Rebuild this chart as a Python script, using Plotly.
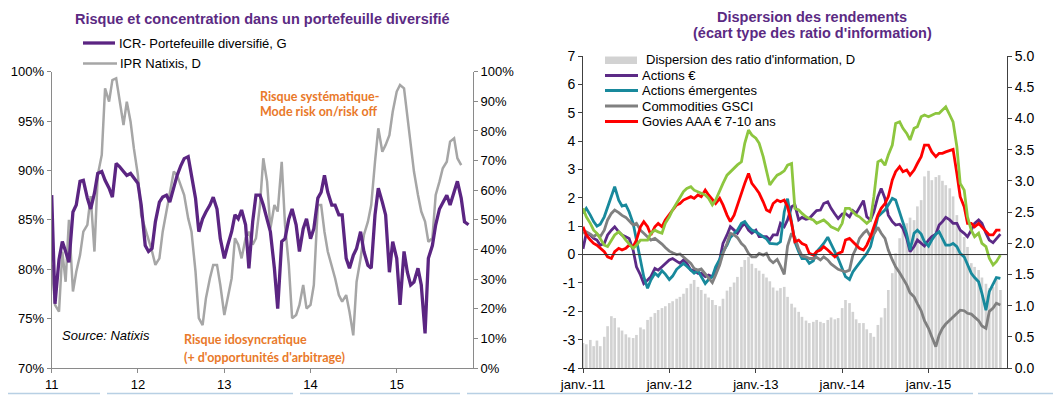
import pandas as pd
import plotly.graph_objects as go

# The page body has an 8px margin: the figure is drawn 8px in from the top-left corner.
OFF = 8
W, H = 1061 - OFF, 396 - OFF

# ---------------- data (semi-monthly readings) ----------------
dates_left = pd.date_range("2011-01-01", periods=117, freq="SMS")
icr = [87.5, 76.5, 81.0, 82.8, 81.8, 80.7, 85.8, 86.5, 88.9, 89.0,
       87.2, 86.1, 87.7, 89.7, 89.9, 89.0, 88.2, 87.3, 90.7, 90.4,
       89.9, 89.5, 89.7, 89.2, 88.7, 86.5, 82.4, 81.8, 82.1, 84.8,
       86.8, 87.3, 87.5, 86.8, 88.2, 89.5, 90.5, 91.2, 91.4, 89.5,
       87.2, 83.8, 85.1, 85.8, 86.5, 87.3, 86.1, 83.1, 81.1, 82.4,
       83.8, 85.5, 85.1, 86.0, 84.5, 80.1, 84.8, 87.5, 87.5, 86.5,
       85.1, 83.8, 80.1, 76.0, 82.8, 83.1, 85.1, 86.1, 84.5, 81.8,
       84.1, 85.1, 83.1, 84.1, 87.2, 87.8, 89.5, 87.8, 86.5, 86.5,
       85.5, 85.5, 81.1, 80.1, 81.4, 82.1, 83.8, 81.8, 80.4, 80.1,
       85.5, 88.2, 86.8, 85.5, 79.7, 82.8, 81.1, 76.4, 81.8, 79.7,
       78.4, 78.7, 80.1, 78.4, 73.5, 81.1, 82.4, 84.5, 86.1, 86.8,
       87.5, 86.5, 87.8, 88.9, 87.2, 84.8, 84.5]
ipr = [34.8, 21.3, 19.0, 39.3, 29.1, 50.0, 25.8, 32.5, 38.1, 46.0,
       48.3, 58.0, 39.3, 65.1, 71.9, 94.4, 89.9, 97.2, 97.8, 91.0,
       82.0, 89.9, 83.1, 74.1, 65.1, 51.6, 47.1, 42.6, 39.3, 34.8,
       37.0, 46.0, 52.8, 59.5, 66.3, 65.1, 61.8, 58.4, 50.5, 46.0,
       32.5, 16.8, 14.5, 23.5, 30.3, 34.8, 34.8, 28.0, 17.9, 23.5,
       30.3, 43.8, 41.6, 37.0, 43.8, 46.0, 41.6, 43.8,
       55.0, 70.8, 62.9, 47.1, 55.0, 52.8, 69.6, 48.3, 34.8, 16.8,
       17.9, 21.3, 28.0, 20.1, 21.3, 28.0, 55.0, 55.0, 46.0, 39.3,
       34.8, 30.3, 24.6, 22.4, 24.6, 19.0, 11.0, 29.1, 37.0, 44.9,
       49.4, 55.0, 69.6, 80.9, 73.0, 75.3, 78.6, 86.5, 93.3, 95.5,
       94.4, 84.3, 76.4, 66.3, 58.4, 52.8, 49.4, 42.6, 43.8, 58.4,
       62.9, 67.4, 69.6, 76.4, 77.5, 70.8, 68.5]

dates_right = pd.date_range("2011-01-01", periods=117, freq="SMS")
dispersion = [0.40, 0.38, 0.45, 0.35, 0.44, 0.35, 0.50, 0.67, 0.83, 0.80,
              0.65, 0.60, 0.54, 0.49, 0.48, 0.53, 0.65, 0.62, 0.77, 0.82,
              0.88, 0.93, 0.96, 0.99, 1.04, 1.07, 1.11, 1.14, 1.19, 1.28,
              1.35, 1.41, 1.30, 1.25, 1.19, 1.13, 1.09, 1.01, 0.99, 1.11,
              1.24, 1.30, 1.37, 1.46, 1.62, 1.73, 1.78, 1.67, 1.60, 1.56,
              1.51, 1.45, 1.39, 1.29, 1.24, 1.28, 1.30, 1.14, 1.03, 0.97,
              0.90, 0.82, 0.76, 0.72, 0.74, 0.77, 0.74, 0.72, 0.77, 0.81,
              0.78, 0.80, 0.96, 1.09, 1.04, 0.90, 0.78, 0.72, 0.72, 0.62,
              0.56, 0.50, 0.69, 0.81, 0.96, 1.25, 1.52, 1.84, 2.08, 2.25,
              2.32, 2.41, 2.37, 2.59, 2.69, 3.07, 3.16, 3.01, 3.06, 3.09,
              3.00, 2.93, 2.88, 2.75, 2.45, 2.21, 2.10, 1.94, 1.68, 1.62,
              1.57, 1.45, 1.35, 1.28, 1.30, 1.41, 1.25]
actions_eur = [0.20, 0.75, 0.69, 0.57, 0.51, 0.33, 0.39, 0.69, 0.86, 0.98,
               0.80, 0.69, 0.63, 0.57, 0.16, -0.43, -0.72, -1.02, -0.90, -0.78,
               -0.49, -0.55, -0.43, -0.31, -0.19, -0.14, -0.25, -0.31, -0.19, -0.31,
               -0.55, -0.55, -0.66, -0.66, -0.78, -0.72, -0.78, -0.55, -0.19, 0.39,
               0.69, 0.98, 0.86, 0.75, 0.98, 1.10, 0.86, 0.75, 0.86, 0.63,
               0.63, 0.63, 0.51, 0.69, 0.69, 1.10, 0.98, 1.22, 1.69, 1.75,
               1.22, 1.31, 1.24, 1.27, 1.43, 1.55, 1.57, 1.80, 1.86, 1.63,
               1.43, 1.27, 1.43, 1.45, 1.33, 1.55, 1.45, 1.66, 1.90, 1.33,
               1.22, 1.51, 2.04, 2.33, 1.98, 1.39, 1.16, 1.04, 1.07, 0.92,
               0.57, 0.10, 0.28, 0.51, 0.39, 0.30, 0.51, 0.63, 0.72, 1.04,
               1.16, 1.31, 1.22, 1.10, 1.10, 0.86, 0.75, 0.63, 0.86, 1.10,
               1.22, 1.10, 0.75, 0.51, 0.42, 0.57, 0.72]
actions_em = [1.45, 1.63, 1.39, 1.16, 1.00, 1.07, 1.33, 1.69, 2.04, 2.39,
              1.92, 1.71, 1.75, 1.51, 1.10, 0.51, -0.31, -0.78, -1.19, -0.90,
              -0.66, -0.76, -0.57, -0.69, -0.88, -0.76, -0.52, -0.43, -0.31, -0.41,
              -0.55, -0.66, -0.57, -0.78, -1.02, -0.88, -0.78, -0.43, -0.17, 0.10,
              0.33, 0.60, 0.75, 0.86, 1.10, 1.16, 0.98, 0.86, 0.80, 0.72,
              0.60, 0.55, 0.39, 0.37, 0.37, 0.45, 1.50, 1.97, 1.20, 0.45,
              0.10, -0.14, -0.14, -0.31, -0.22, 0.10, 0.25, 0.39, 0.61, 0.37,
              0.14, -0.14, -0.49, -0.78, -0.88, -0.61, -0.45, -0.31, -0.10, 0.04,
              0.28, 0.75, 1.33, 1.45, 1.57, 1.75, 1.98, 1.92, 1.51, 1.10,
              0.72, 0.16, 0.75, 0.86, 0.72, 0.45, 0.30, 0.51, 0.72, 0.80,
              0.57, 0.33, 0.33, 0.39, 0.28, 0.04, -0.08, -0.37, -0.66, -0.81,
              -0.96, -1.37, -1.96, -1.31, -1.07, -0.81, -0.84]
commodities = [0.75, 0.80, 0.72, 0.63, 0.72, 0.63, 0.86, 1.22, 1.45, 1.57,
               1.48, 1.38, 1.31, 1.19, 1.04, 1.10, 0.86, 0.75, 0.63, 0.51,
               0.57, 0.49, 0.37, 0.25, 0.12, 0.06, 0.00, 0.02, -0.08, -0.17,
               -0.31, -0.49, -0.55, -0.51, -0.69, -0.80, -0.99, -0.72, -0.37, 0.04,
               0.39, 0.75, 0.69, 0.60, 0.39, 0.28, 0.04, -0.08, -0.08, 0.04,
               -0.02, 0.04, -0.19, -0.29, -0.17, -0.40, -0.70, 0.30, 0.75, 0.60,
               0.20, -0.05, -0.08, -0.14, -0.14, -0.10, -0.19, -0.08, -0.19, -0.33,
               -0.45, -0.52, -0.57, -0.61, -0.55, -0.02, 0.22, 0.57, 0.75, 0.86,
               0.63, 0.72, 0.96, 0.75, 0.57, 0.16, -0.19, -0.43, -0.64, -0.84,
               -1.07, -1.35, -1.49, -1.73, -1.98, -2.33, -2.60, -2.90, -3.25, -2.84,
               -2.60, -2.45, -2.31, -2.19, -2.07, -1.96, -1.98, -2.07, -2.10, -2.22,
               -2.33, -2.52, -2.60, -2.01, -1.89, -1.72, -1.78]
govies = [0.98, 0.69, 0.51, 0.39, 0.33, 0.22, 0.10, -0.08, -0.14, 0.10,
          0.22, 0.16, 0.22, 0.33, 0.28, 0.51, 0.98, 1.16, 0.98, 0.69,
          0.98, 1.10, 0.98, 1.22, 1.39, 1.57, 1.75, 1.80, 1.92, 1.98,
          2.04, 1.98, 2.10, 2.04, 2.27, 2.10, 1.92, 1.80, 1.98, 1.75,
          1.39, 1.16, 1.39, 1.75, 2.16, 2.51, 2.86, 2.51, 2.33, 2.16,
          1.86, 1.57, 1.51, 1.80, 1.92, 1.86, 1.92, 1.69, 1.10, 0.45,
          0.51, 0.39, 0.33, 0.04, -0.02, 0.10, 0.16, 0.28, 0.16, 0.04,
          -0.08, 0.04, 0.10, 0.51, 0.57, 0.45, 0.33, 0.22, 0.16, 0.33,
          0.63, 0.98, 1.39, 1.63, 1.80, 2.04, 2.63, 2.92, 3.10, 2.92,
          2.98, 2.80, 2.98, 3.21, 3.45, 3.86, 3.86, 3.62, 3.45, 3.57,
          3.57, 3.62, 3.68, 3.71, 2.86, 2.04, 1.69, 1.10, 1.10, 0.98,
          1.10, 0.98, 0.80, 0.69, 0.69, 0.86, 0.86]
green_series = [1.63, 1.33, 1.10, 0.86, 0.75, 0.57, 0.33, 0.28, 0.51, 0.69,
                0.80, 0.69, 0.51, 0.39, 0.22, 0.33, 0.51, 0.51, 0.51, 0.75,
                0.86, 0.80, 0.75, 1.10, 1.33, 1.57, 1.80, 1.98, 2.22, 2.33,
                2.39, 2.27, 2.22, 2.16, 2.10, 1.98, 1.75, 1.92, 2.27, 2.51,
                2.80, 2.92, 3.04, 3.16, 3.27, 3.92, 4.39, 4.21, 4.10, 3.92,
                3.45, 2.98, 2.45, 2.62, 2.80, 2.86, 2.95, 3.15, 3.21, 1.63,
                1.57, 1.45, 1.33, 1.27, 1.22, 1.10, 1.16, 1.22, 1.10, 0.98,
                0.92, 0.86, 1.10, 1.63, 1.63, 1.51, 1.39, 1.33, 1.22, 1.10,
                1.22, 2.04, 3.27, 3.33, 3.15, 3.51, 3.86, 4.62, 4.68, 4.45,
                4.27, 4.04, 4.45, 4.51, 4.86, 4.92, 4.86, 4.92, 4.98, 4.98,
                5.10, 5.21, 4.92, 4.68, 3.80, 2.51, 2.27, 1.33, 0.86, 0.63,
                0.75, 0.39, 0.28, -0.13, -0.37, -0.25, -0.02]

left_xticks = ["2011-01-01", "2012-01-01", "2013-01-01", "2014-01-01", "2015-01-01"]
left_xlabels = ["11", "12", "13", "14", "15"]
right_xlabels = ["janv.-11", "janv.-12", "janv.-13", "janv.-14", "janv.-15"]
left_y_ticks = [70, 75, 80, 85, 90, 95, 100]
ipr_ticks = list(range(0, 101, 10))
right_y_ticks = [-4, -3, -2, -1, 0, 1, 2, 3, 4, 5, 6, 7]
disp_ticks = [0, 0.5, 1, 1.5, 2, 2.5, 3, 3.5, 4, 4.5, 5]

# ---------------- styling ----------------
FONT = "Liberation Sans, Arial, sans-serif"
PURPLE_T = "#5b2a83"
ORANGE = "#e9792a"
C_ICR = "#5b2582"
C_IPR = "#a6a6a6"
C_EUR = "#5c2a86"
C_EM = "#18899c"
C_COM = "#808080"
C_GOV = "#ff0000"
C_GRN = "#8dc63f"
C_BAR = "#d2d2d2"
AX_GREY = "#8a8a8a"


def fx(px):
    return (px - OFF) / W


def fy(py):
    return 1 - (py - OFF) / H


fig = go.Figure()

# left panel
fig.add_trace(go.Scatter(x=dates_left[:len(ipr)], y=ipr, mode="lines", name="IPR Natixis, D",
                         line=dict(color=C_IPR, width=2.5), xaxis="x", yaxis="y", showlegend=False))
fig.add_trace(go.Scatter(x=dates_left, y=icr, mode="lines", name="ICR- Portefeuille diversifié, G",
                         line=dict(color=C_ICR, width=3.3), xaxis="x", yaxis="y2", showlegend=False))

# right panel
fig.add_trace(go.Bar(x=dates_right, y=dispersion, name="Dispersion des ratio d'information, D",
                     marker=dict(color=C_BAR, line=dict(width=0)), xaxis="x2", yaxis="y3", showlegend=False))
for vals, col, nm in [(actions_eur, C_EUR, "Actions €"),
                      (actions_em, C_EM, "Actions émergentes"),
                      (commodities, C_COM, "Commodities GSCI"),
                      (govies, C_GOV, "Govies AAA € 7-10 ans"),
                      (green_series, C_GRN, "")]:
    fig.add_trace(go.Scatter(x=dates_right, y=vals, mode="lines", name=nm,
                             line=dict(color=col, width=2.8), xaxis="x2", yaxis="y4", showlegend=False))

tickfont = dict(family=FONT, size=13, color="#000000")
tickfont14 = dict(family=FONT, size=14, color="#000000")

fig.update_layout(
    width=W, height=H, margin=dict(l=0, r=0, t=0, b=0, autoexpand=False),
    paper_bgcolor="white", plot_bgcolor="rgba(0,0,0,0)",
    showlegend=False, bargap=0.2,
    font=dict(family=FONT, size=13, color="#000"),
    xaxis=dict(domain=[fx(51.7), fx(473)], anchor="y", type="date", automargin=False,
               range=["2011-01-01", "2015-11-20"], tickvals=left_xticks, ticktext=left_xlabels,
               showline=True, linecolor=AX_GREY, linewidth=1, ticks="outside", ticklen=4,
               tickcolor=AX_GREY, showgrid=False, zeroline=False, tickfont=tickfont),
    yaxis=dict(domain=[fy(368), fy(71.7)], anchor="x", side="right", range=[0, 100], automargin=False,
               tickvals=ipr_ticks, ticktext=[f"{v}%" for v in ipr_ticks], showline=True, linecolor=AX_GREY,
               ticks="outside", ticklen=4, tickcolor=AX_GREY, showgrid=False, zeroline=False,
               tickfont=tickfont),
    yaxis2=dict(overlaying="y", anchor="x", side="left", range=[70, 100], automargin=False,
                tickvals=left_y_ticks, ticktext=[f"{v}%" for v in left_y_ticks], showline=True,
                linecolor=AX_GREY, ticks="outside", ticklen=4, tickcolor=AX_GREY, showgrid=False,
                zeroline=False, tickfont=tickfont),
    xaxis2=dict(domain=[fx(583), fx(1007)], anchor="y3", type="date", automargin=False,
                range=["2011-01-01", "2015-11-29"], tickvals=left_xticks, ticktext=right_xlabels,
                showline=True, linecolor="#404040", linewidth=1, ticks="outside", ticklen=4,
                tickcolor="#404040", showgrid=False, zeroline=False, tickfont=tickfont),
    yaxis3=dict(domain=[fy(368), fy(56)], anchor="x2", side="right", range=[0, 5], automargin=False,
                tickvals=disp_ticks, ticktext=[f"{v:.1f}" for v in disp_ticks], showline=True,
                linecolor="#404040", ticks="outside", ticklen=4, tickcolor="#404040",
                showgrid=False, zeroline=False, tickfont=tickfont14),
    yaxis4=dict(overlaying="y3", anchor="x2", side="left", range=[-4, 7], automargin=False,
                tickvals=right_y_ticks, ticktext=[str(v) for v in right_y_ticks],
                showline=True, linecolor="#404040", ticks="outside", ticklen=4,
                tickcolor="#404040", showgrid=False, zeroline=False, tickfont=tickfont14),
)

shapes = []
# zero line of the right panel
shapes.append(dict(type="line", xref="x2 domain", yref="y4", x0=0, x1=1, y0=0, y1=0,
                   line=dict(color="#333333", width=1), layer="above"))
# legend swatches (left)
shapes.append(dict(type="line", xref="paper", yref="paper", x0=fx(83), x1=fx(115), y0=fy(43), y1=fy(43),
                   line=dict(color=C_ICR, width=3.3)))
shapes.append(dict(type="line", xref="paper", yref="paper", x0=fx(83), x1=fx(117), y0=fy(63.5), y1=fy(63.5),
                   line=dict(color=C_IPR, width=2.5)))
# legend swatches (right)
shapes.append(dict(type="rect", xref="paper", yref="paper", x0=fx(605), x1=fx(637), y0=fy(64), y1=fy(56.5),
                   fillcolor=C_BAR, line=dict(width=0)))
for yy, col in [(75.5, C_EUR), (90.5, C_EM), (106, C_COM), (121.5, C_GOV)]:
    shapes.append(dict(type="line", xref="paper", yref="paper", x0=fx(605), x1=fx(638), y0=fy(yy), y1=fy(yy),
                       line=dict(color=col, width=2.8)))
# light blue border strip at bottom of the page
for a, b in [(8, 100), (107, 293), (300, 460), (467, 973), (978, 1061)]:
    shapes.append(dict(type="line", xref="paper", yref="paper", x0=fx(a), x1=fx(b), y0=fy(393.5), y1=fy(393.5),
                       line=dict(color="#b8d0e4", width=1.5)))
fig.update_layout(shapes=shapes)

ann = []


def text(x, y, s, size=13, color="#000", bold=False, italic=False, family=FONT, anchor="left"):
    if bold:
        s = "<b>" + s + "</b>"
    if italic:
        s = "<i>" + s + "</i>"
    ann.append(dict(x=fx(x), y=fy(y), xref="paper", yref="paper", text=s, showarrow=False,
                    xanchor=anchor, yanchor="middle", borderpad=0,
                    font=dict(family=family, size=size, color=color)))


text(262, 19, "Risque et concentration dans un portefeuille diversifié", size=14.5, color=PURPLE_T,
     bold=True, anchor="center")
text(812, 17, "Dispersion des rendements", size=14.5, color=PURPLE_T, bold=True, anchor="center")
text(812, 33, "(écart type des ratio d'information)", size=14.5, color=PURPLE_T, bold=True, anchor="center")

text(118, 43, "ICR- Portefeuille diversifié, G")
text(119, 63.5, "IPR Natixis, D")

text(645, 60, "Dispersion des ratio d'information, D")
text(641, 75.5, "Actions €")
text(641, 90.5, "Actions émergentes")
text(641, 106, "Commodities GSCI")
text(641, 121.5, "Govies AAA € 7-10 ans")

CAL = "Lato, Carlito, Calibri, sans-serif"
text(259, 97, "Risque systématique-", size=12.5, color=ORANGE, bold=True, family=CAL)
text(259, 112, "Mode risk on/risk off", size=12.5, color=ORANGE, bold=True, family=CAL)
text(183, 339, "Risque idosyncratique", size=12.5, color=ORANGE, bold=True, family=CAL)
text(183, 357, "(+ d'opportunités d'arbitrage)", size=12.5, color=ORANGE, bold=True, family=CAL)
text(61, 335, "Source: Natixis", size=13, italic=True)

fig.update_layout(annotations=ann)

fig.write_html("out.html")
